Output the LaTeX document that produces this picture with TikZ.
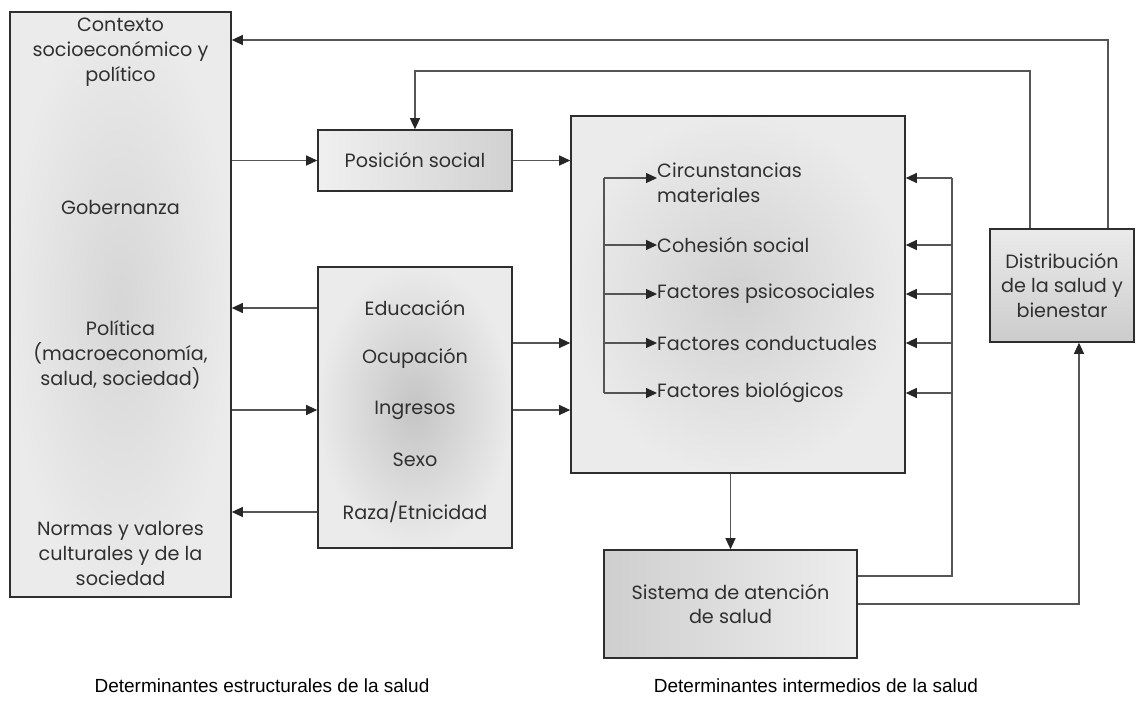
\documentclass[tikz,border=0pt]{standalone}
\usepackage{fontspec}
\setmainfont{Poppins}
\newfontfamily\capfont{Liberation Sans}
\usetikzlibrary{arrows.meta,calc}
\definecolor{txt}{HTML}{303030}
\definecolor{edge}{HTML}{2E2E2E}
\definecolor{lin}{HTML}{555555}
\tikzset{
  box/.style={draw=edge, line width=1.6pt, inner sep=0pt, text=txt,
    font=\fontsize{19.2}{24.5}\selectfont, align=center},
  conn/.style={draw=lin, line width=1.1pt},
  arr/.style={conn, -{Triangle[length=11pt,width=10pt,color=black!85,fill=black!85]}},
  lbl/.style={font=\fontsize{19.2}{24.8}\selectfont, text=txt, inner sep=0pt, align=center},
  captext/.style={font=\capfont\fontsize{19}{22}\selectfont, text=black, inner sep=0pt},
}
\begin{document}
\begin{tikzpicture}[x=1pt,y=-1pt]
\useasboundingbox (0,0) rectangle (1146,707);
\fill[white] (0,0) rectangle (1146,707);
% boxes
\node[box, minimum width=221pt, minimum height=585pt, inner color=black!16, outer color=black!8] (L) at (120.5,304.5) {};
\node[box, minimum width=194pt, minimum height=61pt, left color=black!6, right color=black!18] (PS) at (415,160.5) {Posición social};
\node[box, minimum width=194pt, minimum height=281pt, inner color=black!23, outer color=black!8] (M) at (415,407.5) {};
\node[box, minimum width=334pt, minimum height=357pt, inner color=black!18, outer color=black!8] (B) at (738,294.5) {};
\node[box, minimum width=253pt, minimum height=108pt, shading angle=135, left color=black!19, right color=black!7] (S) at (730.5,604) {Sistema de atención\\de salud};
\node[box, minimum width=144pt, minimum height=113pt, top color=black!8, bottom color=black!20] (D) at (1062,285.5) {Distribución\\de la salud y\\bienestar};
% left box texts
\node[lbl] (L1) at (120.5,52) {Contexto\\socioeconómico y\\político};
\node[lbl] (L2) at (120.5,207) {Gobernanza};
\node[lbl] (L3) at (120.5,355) {Política\\(macroeconomía,\\salud, sociedad)};
\node[lbl] (L4) at (120.5,553.5) {Normas y valores\\culturales y de la\\sociedad};
% middle texts
\node[lbl] (edu) at (415,308) {Educación};
\node[lbl] (ocu) at (415,358) {Ocupación};
\node[lbl] (ing) at (415,410) {Ingresos};
\node[lbl] (sex) at (415,460) {Sexo};
\node[lbl] (raz) at (415,512) {Raza/Etnicidad};
% items in big box
\node[lbl, anchor=west, align=left] (i1) at (657,183) {Circunstancias\\materiales};
\node[lbl, anchor=west] (i2) at (657,245) {Cohesión social};
\node[lbl, anchor=west] (i3) at (657,294) {Factores psicosociales};
\node[lbl, anchor=west] (i4) at (657,343) {Factores conductuales};
\node[lbl, anchor=west] (i5) at (657,393) {Factores biológicos};
% helper coordinates
\coordinate (p1) at (604,178);
\coordinate (p5) at (604,393);
\coordinate (r1) at (952,178);
\coordinate (r2) at (952,245);
\coordinate (r3) at (952,294);
\coordinate (r4) at (952,343);
\coordinate (r5) at (952,393);
\coordinate (t1) at (0,40);
\coordinate (t2) at (0,71);
\coordinate (s1) at ($(S.east)+(0,-28)$);
\coordinate (dU1) at ($(D.north)+(46,0)$);
\coordinate (dU2) at ($(D.north)+(-32,0)$);
\coordinate (dB) at ($(D.south)+(17,0)$);
% bracket
\draw[conn] (p1) -- (p5);
\draw[arr] (p1) -- (p1 -| i1.west);
\draw[arr] (p1 |- i2) -- (i2.west);
\draw[arr] (p1 |- i3) -- (i3.west);
\draw[arr] (p1 |- i4) -- (i4.west);
\draw[arr] (p5) -- (i5.west);
% right feedback from Sistema
\draw[conn] (s1) -| (r1);
\draw[arr] (r1) -- (B.east |- r1);
\draw[arr] (r2) -- (B.east |- r2);
\draw[arr] (r3) -- (B.east |- r3);
\draw[arr] (r4) -- (B.east |- r4);
\draw[arr] (r5) -- (B.east |- r5);
\draw[arr] (S.east) -| (dB);
% top feedback lines
\draw[arr] (dU1) |- (L.east |- t1);
\draw[arr] (dU2) |- (PS.north |- t2) -- (PS.north);
% main flows
\draw[arr] (L.east |- PS.west) -- (PS.west);
\draw[arr] (PS.east) -- (B.west |- PS.east);
\draw[arr] (M.west |- edu) -- (L.east |- edu);
\draw[arr] (L.east |- ing) -- (M.west |- ing);
\draw[arr] (M.west |- raz) -- (L.east |- raz);
\draw[arr] (M.east |- i4) -- (B.west |- i4);
\draw[arr] (M.east |- ing) -- (B.west |- ing);
\draw[arr] (S.north |- B.south) -- (S.north);
% captions
\node[captext] (c1) at (262,686) {Determinantes estructurales de la salud};
\node[captext] (c2) at (816,686) {Determinantes intermedios de la salud};
\end{tikzpicture}
\end{document}
